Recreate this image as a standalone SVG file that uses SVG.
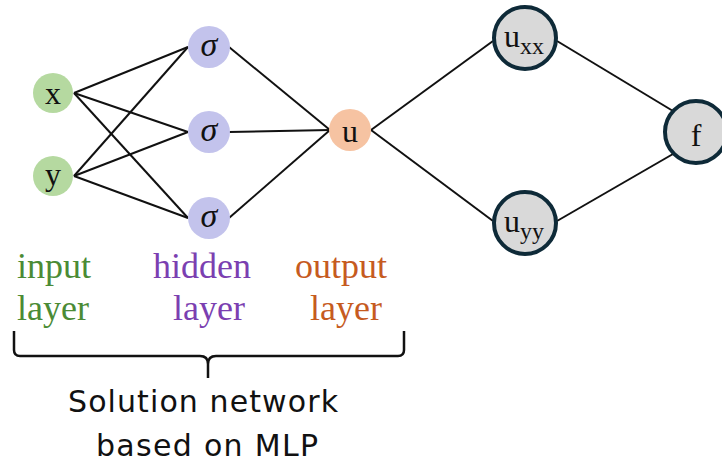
<svg xmlns="http://www.w3.org/2000/svg" width="722" height="464" viewBox="0 0 722 464">
<style>
.edge{stroke:#111;stroke-width:2;fill:none}
.lbl{font-family:"Liberation Serif",serif;font-size:32px;fill:#111;text-anchor:middle}
.sig{font-size:34px;font-style:italic}
.sub{font-size:24px}
.in{fill:#b5d9a0}
.hid{fill:#c3c3ec}
.out{fill:#f6c3a2}
.der{fill:#d9d9d9;stroke:#0e2a38;stroke-width:4}
.cap{font-family:"Liberation Serif",serif;font-size:36px}
.bot{font-family:"DejaVu Sans",sans-serif;font-size:30px;fill:#111}
</style>
<rect width="722" height="464" fill="#fff"/>
<g id="connectors">
<line class="edge" x1="74" y1="93" x2="188" y2="47"/>
<line class="edge" x1="74" y1="93" x2="188" y2="132"/>
<line class="edge" x1="74" y1="93" x2="188" y2="218"/>
<line class="edge" x1="74" y1="176" x2="188" y2="47"/>
<line class="edge" x1="74" y1="176" x2="188" y2="132"/>
<line class="edge" x1="74" y1="176" x2="188" y2="218"/>
<line class="edge" x1="229" y1="47" x2="330" y2="130"/>
<line class="edge" x1="229" y1="132" x2="330" y2="130"/>
<line class="edge" x1="229" y1="218" x2="330" y2="130"/>
<line class="edge" x1="371" y1="130" x2="493" y2="41"/>
<line class="edge" x1="371" y1="130" x2="493" y2="221"/>
<line class="edge" x1="557" y1="41" x2="673" y2="111"/>
<line class="edge" x1="557" y1="221" x2="673" y2="154"/>
</g>
<g id="node-x"><circle class="in" cx="53" cy="93" r="20"/><text class="lbl" x="53" y="104">x</text></g>
<g id="node-y"><circle class="in" cx="53" cy="176" r="20"/><text class="lbl" x="53" y="185">y</text></g>
<g id="node-h1"><circle class="hid" cx="209" cy="47" r="21"/><text class="lbl sig" x="209" y="56">σ</text></g>
<g id="node-h2"><circle class="hid" cx="209" cy="132" r="21"/><text class="lbl sig" x="209" y="141">σ</text></g>
<g id="node-h3"><circle class="hid" cx="209" cy="218" r="21"/><text class="lbl sig" x="209" y="227">σ</text></g>
<g id="node-u"><circle class="out" cx="350" cy="130" r="21"/><text class="lbl" x="350" y="142" font-size="34">u</text></g>
<g id="node-uxx"><circle class="der" cx="525" cy="38" r="31"/><text class="lbl" x="524" y="47" font-size="34">u<tspan class="sub" dy="7">xx</tspan></text></g>
<g id="node-uyy"><circle class="der" cx="525" cy="223" r="31"/><text class="lbl" x="524" y="232" font-size="34">u<tspan class="sub" dy="7">yy</tspan></text></g>
<g id="node-f"><circle class="der" cx="696" cy="132" r="31"/><text class="lbl" x="696" y="146" font-size="40">f</text></g>
<g id="labels">
<text class="cap" fill="#4b8b35" x="17" y="278">input</text>
<text class="cap" fill="#4b8b35" x="17" y="320">layer</text>
<text class="cap" fill="#7b3fb1" x="153" y="278">hidden</text>
<text class="cap" fill="#7b3fb1" x="173" y="320">layer</text>
<text class="cap" fill="#c65b1f" x="295" y="278">output</text>
<text class="cap" fill="#c65b1f" x="310" y="320">layer</text>
</g>
<g id="brace">
<path d="M14 331 V350 Q14 356 20 356 H200 Q208 356 208 364 V378 M208 364 Q208 356 216 356 H398 Q404 356 404 350 V331" stroke="#111" stroke-width="2.5" fill="none"/>
</g>
<text class="bot" x="68" y="412" textLength="270" lengthAdjust="spacing">Solution network</text>
<text class="bot" x="96" y="456" textLength="222" lengthAdjust="spacing">based on MLP</text>
</svg>
